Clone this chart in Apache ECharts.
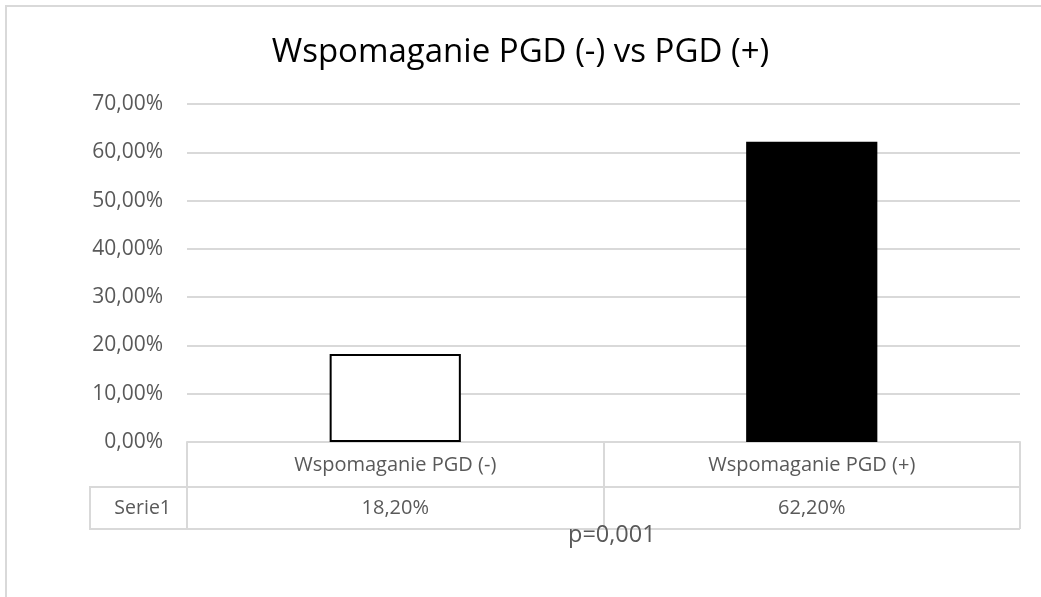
<!DOCTYPE html>
<html>
<head>
<meta charset="utf-8">
<script src="https://cdn.jsdelivr.net/npm/echarts@6/dist/echarts.min.js"></script>
<style>
  html, body { margin: 0; padding: 0; background: #fff; }
  #chart { width: 1041px; height: 597px; }
</style>
</head>
<body>
<div id="chart"></div>
<script>
// Categories and series values (fractions)
const categories = ['Wspomaganie PGD (-)', 'Wspomaganie PGD (+)'];
const seriesName = 'Serie1';
const values = [0.182, 0.622];
const barColors = ['#ffffff', '#000000'];
const yTicks = { min: 0, max: 0.7, interval: 0.1 };
const titleText = 'Wspomaganie PGD (-) vs PGD (+)';
const noteText = 'p=0,001';

const FONT = '"Open Sans", sans-serif';
const GRID = { left: 187, right: 21, top: 104, bottom: 155 };
const TABLE_LINE = '#d9d9d9';
const TEXT = '#595959';

// Polish-style percent formatting: 18,20%
const pct = v => (v * 100).toFixed(2).replace('.', ',') + '%';

const chart = echarts.init(document.getElementById('chart'), null, { renderer: 'canvas' });

const option = {
  animation: false,
  backgroundColor: '#ffffff',
  title: {
    text: titleText,
    left: 'center',
    top: 31,
    textStyle: { fontFamily: FONT, fontSize: 33, fontWeight: 'normal', color: '#000000' }
  },
  grid: GRID,
  xAxis: [
    {
      type: 'category',
      data: categories,
      axisLine: { show: true, lineStyle: { color: TABLE_LINE, width: 2 } },
      axisTick: { show: true, length: 87, lineStyle: { color: TABLE_LINE, width: 2 } },
      axisLabel: { margin: 13, fontFamily: FONT, fontSize: 20, color: TEXT }
    },
    {
      // value row of the data table
      type: 'category',
      position: 'bottom',
      data: categories,
      offset: 44,
      axisLine: { show: false },
      axisTick: { show: false },
      axisLabel: {
        margin: 12,
        fontFamily: FONT, fontSize: 20, color: TEXT,
        formatter: (v, i) => pct(values[i])
      }
    }
  ],
  yAxis: {
    type: 'value',
    min: yTicks.min,
    max: yTicks.max,
    interval: yTicks.interval,
    axisLine: { show: false },
    axisTick: { show: false },
    splitLine: { lineStyle: { color: TABLE_LINE, width: 2 } },
    axisLabel: { margin: 24, fontFamily: FONT, fontSize: 21, color: TEXT, formatter: pct }
  },
  series: [{
    name: seriesName,
    type: 'bar',
    xAxisIndex: 0,
    barWidth: '31.5%',
    data: values.map((v, i) => ({
      value: v,
      itemStyle: { color: barColors[i], borderColor: '#000000', borderWidth: 2 }
    }))
  }],
  graphic: [
    // chart area frame
    { type: 'rect', shape: { x: 6, y: 6, width: 1100, height: 700 },
      style: { fill: 'none', stroke: TABLE_LINE, lineWidth: 2 }, silent: true },
    // data table row lines and series-name cell
    { type: 'line', shape: { x1: 90, y1: 487, x2: 1020, y2: 487 },
      style: { stroke: TABLE_LINE, lineWidth: 2 } },
    { type: 'line', shape: { x1: 90, y1: 529, x2: 1020, y2: 529 },
      style: { stroke: TABLE_LINE, lineWidth: 2 } },
    { type: 'line', shape: { x1: 90, y1: 486, x2: 90, y2: 530 },
      style: { stroke: TABLE_LINE, lineWidth: 2 } },
    { type: 'text', x: 171, y: 508,
      style: { text: seriesName, align: 'right', verticalAlign: 'middle',
               font: '19.5px ' + FONT, fill: TEXT } },
    // significance note
    { type: 'text', x: 568, y: 535, z: 10,
      style: { text: noteText, align: 'left', verticalAlign: 'middle',
               font: '23.5px ' + FONT, fill: TEXT } }
  ]
};

chart.setOption(option);
</script>
</body>
</html>
